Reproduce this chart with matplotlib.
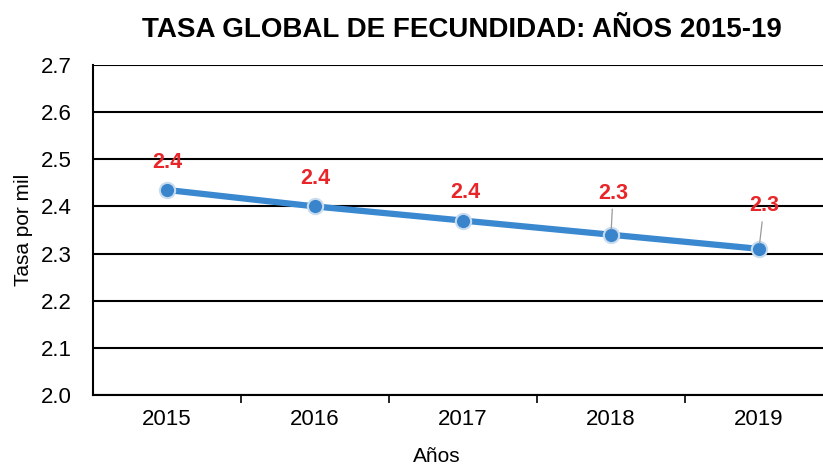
import matplotlib
matplotlib.use("Agg")
import matplotlib.pyplot as plt
from matplotlib.ticker import FixedLocator, NullFormatter

years = ["2015", "2016", "2017", "2018", "2019"]
values = [2.435, 2.40, 2.37, 2.34, 2.31]
labels = ["2.4", "2.4", "2.4", "2.3", "2.3"]
yticks = [2.0, 2.1, 2.2, 2.3, 2.4, 2.5, 2.6, 2.7]

plt.rcParams['font.family'] = ['Liberation Sans', 'DejaVu Sans']

fig = plt.figure(figsize=(8.23, 4.66), dpi=100)
W, H = 823, 466
left, right, top, bottom = 93, 833, 65, 395
ax = fig.add_axes([left / W, 1 - bottom / H, (right - left) / W, (bottom - top) / H])

x = list(range(len(years)))
ax.set_xlim(-0.5, len(years) - 0.5)
ax.set_ylim(2.0, 2.7)
ax.set_yticks(yticks)
ax.set_yticklabels([f"{v:.1f}" for v in yticks], fontsize=16)
ax.yaxis.grid(True, color='black', linewidth=1.5)
ax.set_axisbelow(True)

ax.set_xticks(x)
ax.set_xticklabels(years, fontsize=16)
ax.tick_params(axis='x', which='major', length=0, pad=10)
ax.xaxis.set_minor_locator(FixedLocator([i + 0.5 for i in x[:-1]]))
ax.xaxis.set_minor_formatter(NullFormatter())
ax.tick_params(axis='x', which='minor', length=6, width=1.2, color='black')
ax.tick_params(axis='y', length=0, pad=15)

for s in ['top', 'right']:
    ax.spines[s].set_visible(False)
ax.spines['left'].set_linewidth(1.5)
ax.spines['bottom'].set_linewidth(1.5)

ax.plot(x, values, color='#3A88D0', linewidth=4.5, marker='o', markersize=11,
        markerfacecolor='#3A84CC', markeredgecolor='#C8DCEE', markeredgewidth=1.5,
        solid_capstyle='round', zorder=3)

offsets = [(0, 20), (0, 20), (1.5, 20), (1.5, 30), (3.6, 31)]
for xi, v, lab, (dx, dy) in zip(x, values, labels, offsets):
    leader = dy > 25
    ax.annotate(lab, xy=(xi, v), xytext=(dx, dy), textcoords='offset points',
                ha='center', va='center', fontsize=15.5, fontweight='bold', color='#E8262A',
                arrowprops=dict(arrowstyle='-', color='#9A9A9A', lw=0.9,
                                shrinkA=2, shrinkB=4) if leader else None,
                zorder=4)

ax.set_ylabel("Tasa por mil", fontsize=15, labelpad=6)
fig.text(437 / W, 1 - 456 / H, "Años", ha='center', va='center', fontsize=15)
fig.text(462 / W, 1 - 30 / H, "TASA GLOBAL DE FECUNDIDAD: AÑOS 2015-19",
         ha='center', va='center', fontsize=20, fontweight='bold')

fig.savefig("out.png", dpi=100)
